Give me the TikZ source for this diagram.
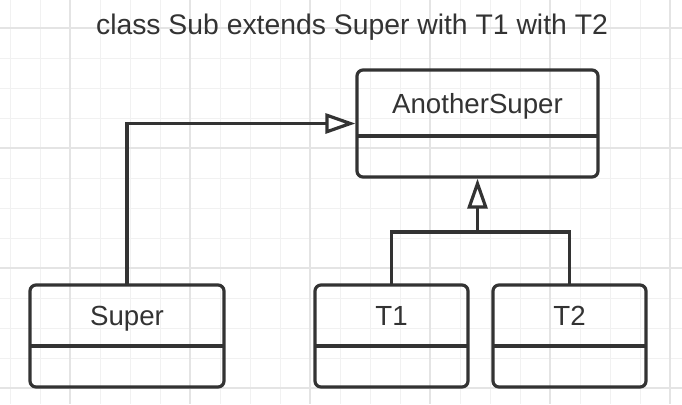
\documentclass[tikz,border=0pt]{standalone}
\usepackage{fontspec}
\setmainfont{Liberation Sans}
\usetikzlibrary{arrows.meta,positioning,fit}
\definecolor{ink}{HTML}{333333}
\definecolor{gridminor}{HTML}{F1F1F1}
\definecolor{gridmajor}{HTML}{E4E4E4}
\begin{document}
\begin{tikzpicture}[x=0.75pt,y=-0.75pt,
	every node/.style={font=\fontsize{20.75}{24}\selectfont, text=ink},
	classhead/.style={minimum height=45.75pt, inner sep=0pt, outer sep=0pt,
		text height=15pt, text depth=0pt},
	classbody/.style={minimum height=30.75pt, inner sep=0pt, outer sep=0pt},
	classbox/.style={draw=ink, line width=2.4pt, rounded corners=4.5pt, inner sep=0pt},
	classline/.style={draw=ink, line width=2.4pt},
	inherit/.style={classline, -{Triangle[fill=white, length=22.5pt, width=15pt]}}]
\useasboundingbox (0,0) rectangle (682,404);
\fill[white] (0,0) rectangle (682,404);
% grid
\foreach \x in {10,40,...,670} \draw[gridminor, line width=0.75pt] (\x,0) -- (\x,404);
\foreach \y in {28,58,...,388} \draw[gridminor, line width=0.75pt] (0,\y) -- (682,\y);
\foreach \x in {70,190,...,670} \draw[gridmajor, line width=1pt] (\x,0) -- (\x,404);
\foreach \y in {28,148,...,388} \draw[gridmajor, line width=1pt] (0,\y) -- (682,\y);

\node[font=\fontsize{21.25}{24}\selectfont, text height=15pt, text depth=0pt, inner sep=0pt] (title) at (352,24)
	{class Sub extends Super with T1 with T2};

% AnotherSuper
\node[classhead, minimum width=180.75pt, minimum height=49.5pt] (another) at (477.5,103) {AnotherSuper};
\node[classbody, minimum width=180.75pt, below=0pt of another] (anotherbody) {};
\node[classbox, fit=(another)(anotherbody)] (anotherbox) {};
\draw[classline] (another.south west) -- (another.south east);

% Super, T1, T2
\foreach \n/\x/\w/\t in {super/127/145.5pt/Super, tone/391.5/114.75pt/T1, ttwo/569.5/114.75pt/T2}
{
	\node[classhead, minimum width=\w] (\n) at (\x,315.5) {\t};
	\node[classbody, minimum width=\w, below=0pt of \n] (\n body) {};
	\node[classbox, fit=(\n)(\n body)] (\n box) {};
	\draw[classline] (\n.south west) -- (\n.south east);
}

% connectors
\coordinate (join) at (477.5,232);
\draw[inherit] (super.north) |- (anotherbox.west);
\draw[classline] (tone.north) |- (join) -| (ttwo.north);
\draw[inherit] (join) -- (anotherbox.south);
\end{tikzpicture}
\end{document}
